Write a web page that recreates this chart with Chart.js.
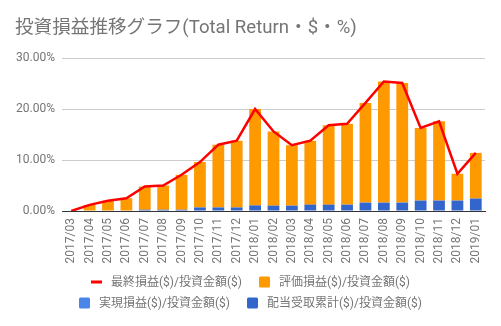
<!DOCTYPE html>
<html>
<head>
<meta charset="utf-8">
<script src="https://cdn.jsdelivr.net/npm/chart.js@4/dist/chart.umd.min.js"></script>
<style>
  html, body { margin: 0; padding: 0; background: #ffffff; }
  #c { display: block; }
</style>
</head>
<body>
<canvas id="c" width="501" height="326"></canvas>
<script>
// Monthly categories
const months = [
  '2017/03', '2017/04', '2017/05', '2017/06', '2017/07', '2017/08', '2017/09',
  '2017/10', '2017/11', '2017/12', '2018/01', '2018/02', '2018/03', '2018/04',
  '2018/05', '2018/06', '2018/07', '2018/08', '2018/09', '2018/10', '2018/11',
  '2018/12', '2019/01'
];

// Total return / invested amount (%)
const totalReturn = [
  0, 1.2, 2.0, 2.5, 4.8, 5.0, 7.1, 9.6, 13.0, 13.8, 20.0, 15.6,
  12.9, 13.8, 16.8, 17.1, 21.2, 25.4, 25.1, 16.3, 17.6, 7.3, 11.4
];

// Unrealized gain / invested amount (%)
const unrealized = [
  0, 1.2, 2.0, 2.5, 4.55, 4.75, 6.85, 8.9, 12.3, 13.1, 18.9, 14.55,
  11.85, 12.55, 15.55, 15.85, 19.55, 23.75, 23.45, 14.25, 15.55, 5.25, 8.95
];

// Realized gain / invested amount (%)
const realized = [
  0, 0, 0, 0, 0, 0, 0, 0, 0, 0, 0, 0,
  0, 0, 0, 0, 0, 0, 0, 0, 0, 0, 0
];

// Cumulative dividends / invested amount (%)
const dividends = [
  0, 0, 0, 0, 0.25, 0.25, 0.25, 0.7, 0.7, 0.7, 1.1, 1.05,
  1.05, 1.25, 1.25, 1.25, 1.65, 1.65, 1.65, 2.05, 2.05, 2.05, 2.45
];

const seriesNames = [
  '最終損益($)/投資金額($)',
  '評価損益($)/投資金額($)',
  '実現損益($)/投資金額($)',
  '配当受取累計($)/投資金額($)'
];
const titleText = '投資損益推移グラフ(Total Return・$・%)';
const yMin = 0, yMax = 30, yStep = 10;

const FONT = "Roboto, 'Noto Sans CJK JP', sans-serif";
const GREY = '#757575';

// Two-row legend drawn beneath the axis labels
const legendRows = [[0, 3], [2, 1]]; // dataset indices per row
const bottomLegend = {
  id: 'bottomLegend',
  afterDraw(chart) {
    const ctx = chart.ctx;
    const rowY = [282, 303];
    const box = 11, gapText = 9, gapItem = 17;
    ctx.save();
    ctx.font = '12px ' + FONT;
    ctx.textBaseline = 'middle';
    ctx.textAlign = 'left';
    legendRows.forEach((row, r) => {
      const ds = row.map(i => chart.data.datasets[i]);
      const widths = ds.map(d => box + gapText + ctx.measureText(d.label).width);
      const total = widths.reduce((a, b) => a + b, 0) + gapItem * (ds.length - 1);
      let x = Math.round(chart.width / 2 - total / 2);
      const y = rowY[r];
      ds.forEach((d, k) => {
        if (d.type === 'line') {
          ctx.fillStyle = d.borderColor;
          ctx.fillRect(x, y - 1.5, box, 3);
        } else {
          ctx.fillStyle = d.backgroundColor;
          ctx.beginPath();
          ctx.roundRect(x, y - box / 2, box, box, 1.5);
          ctx.fill();
        }
        ctx.fillStyle = GREY;
        ctx.fillText(d.label, x + box + gapText, y + 0.5);
        x += widths[k] + gapItem;
      });
    });
    ctx.restore();
  }
};

new Chart(document.getElementById('c'), {
  type: 'bar',
  data: {
    labels: months,
    datasets: [
      {
        type: 'line', label: seriesNames[0], data: totalReturn,
        borderColor: '#ff0000', backgroundColor: '#ff0000', borderWidth: 2.5,
        pointRadius: 0, tension: 0, stack: 'total', order: 0
      },
      { label: seriesNames[3], data: dividends, backgroundColor: '#3366cc', stack: 'bars', order: 1 },
      { label: seriesNames[2], data: realized, backgroundColor: '#4a86e8', stack: 'bars', order: 1 },
      { label: seriesNames[1], data: unrealized, backgroundColor: '#ff9900', stack: 'bars', order: 1 }
    ]
  },
  options: {
    responsive: false,
    animation: false,
    devicePixelRatio: 1,
    layout: { padding: { left: 15, right: 16, top: 0, bottom: 60 } },
    datasets: { bar: { categoryPercentage: 0.64, barPercentage: 1 } },
    plugins: {
      legend: { display: false },
      tooltip: { enabled: false },
      title: {
        display: true, text: titleText, align: 'start', color: GREY,
        font: { family: FONT, size: 18.6, weight: 'normal' },
        padding: { top: 17.5, bottom: 18.2 }
      }
    },
    scales: {
      x: {
        stacked: true,
        grid: { display: false, drawTicks: false },
        border: { display: true, color: '#333333', width: 1 },
        ticks: {
          color: GREY, font: { family: FONT, size: 12 },
          minRotation: 90, maxRotation: 90, padding: 7, autoSkip: false
        },
        afterFit(s) { s.height = 55; }
      },
      y: {
        stacked: true, min: yMin, max: yMax,
        grid: { color: '#cccccc', drawTicks: false },
        border: { display: false },
        ticks: {
          stepSize: yStep, color: GREY, font: { family: FONT, size: 12 }, padding: 7,
          callback: v => v.toFixed(2) + '%'
        },
        afterFit(s) { s.width = 47; }
      }
    }
  },
  plugins: [bottomLegend]
});
</script>
</body>
</html>
